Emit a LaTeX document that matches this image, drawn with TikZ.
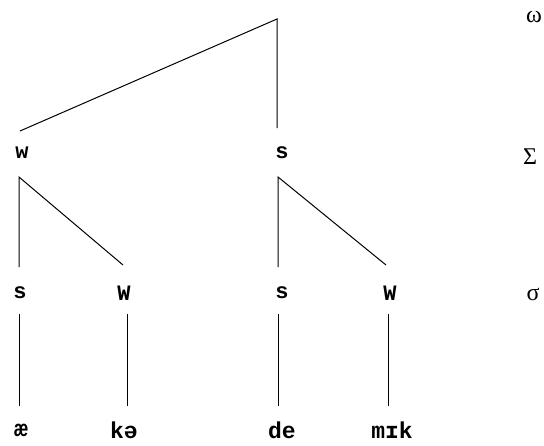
\documentclass[tikz,border=0pt]{standalone}
\usepackage{fontspec}
\setmainfont{Liberation Mono}
\newfontfamily\greekf{Liberation Serif}
\begin{document}
\begin{tikzpicture}[x=1pt,y=-1pt,
  ln/.style={line width=1pt},
  lab/.style={inner sep=0pt,font=\bfseries\fontsize{22}{22}\selectfont},
  seg/.style={inner sep=0pt,font=\bfseries\fontsize{23}{23}\selectfont},
  lvl/.style={inner sep=0pt,font=\greekf\fontsize{24}{24}\selectfont}]
\useasboundingbox[fill=white] (0,0) rectangle (544,445);
% level labels
\node[lvl] (omega) at (534,17) {ω};
\node[lvl] (Sigma) at (530,157) {Σ};
\node[lvl] (sigma) at (533,294) {σ};
% foot level
\node[lab] (w1) at (22,153) {w};
\node[lab] (s1) at (282,153) {s};
% syllable level
\node[lab] (s2) at (20,293) {s};
\node[lab] (w2) at (124,293) {W};
\node[lab] (s3) at (282,293) {s};
\node[lab] (w3) at (390,293) {W};
% segments
\node[seg] (a) at (21,430) {æ};
\node[seg] (b) at (124,430) {kə};
\node[seg] (c) at (282,430) {de};
\node[seg] (d) at (392,430) {mɪk};
% line end points
\coordinate (apex) at (277,19);
\coordinate (w1t) at (20,131);
\coordinate (s1t) at (277,128);
\coordinate (w1b) at (19,177);
\coordinate (s2t) at (19,267);
\coordinate (w2t) at (123,265);
\coordinate (s1b) at (278,177);
\coordinate (s3t) at (278,267);
\coordinate (w3t) at (386,265);
\coordinate (s2b) at (19,314);
\coordinate (at) at (19,406);
\coordinate (w2b) at (127,314);
\coordinate (bt) at (127,406);
\coordinate (s3b) at (278,314);
\coordinate (ct) at (278,406);
\coordinate (w3b) at (388,314);
\coordinate (dt) at (388,406);
% connectors
\draw[ln] (w1t) -- (apex) -- (s1t);
\draw[ln] (s2t) -- (w1b) -- (w2t);
\draw[ln] (s3t) -- (s1b) -- (w3t);
\draw[ln] (s2b) -- (at);
\draw[ln] (w2b) -- (bt);
\draw[ln] (s3b) -- (ct);
\draw[ln] (w3b) -- (dt);
\end{tikzpicture}
\end{document}
